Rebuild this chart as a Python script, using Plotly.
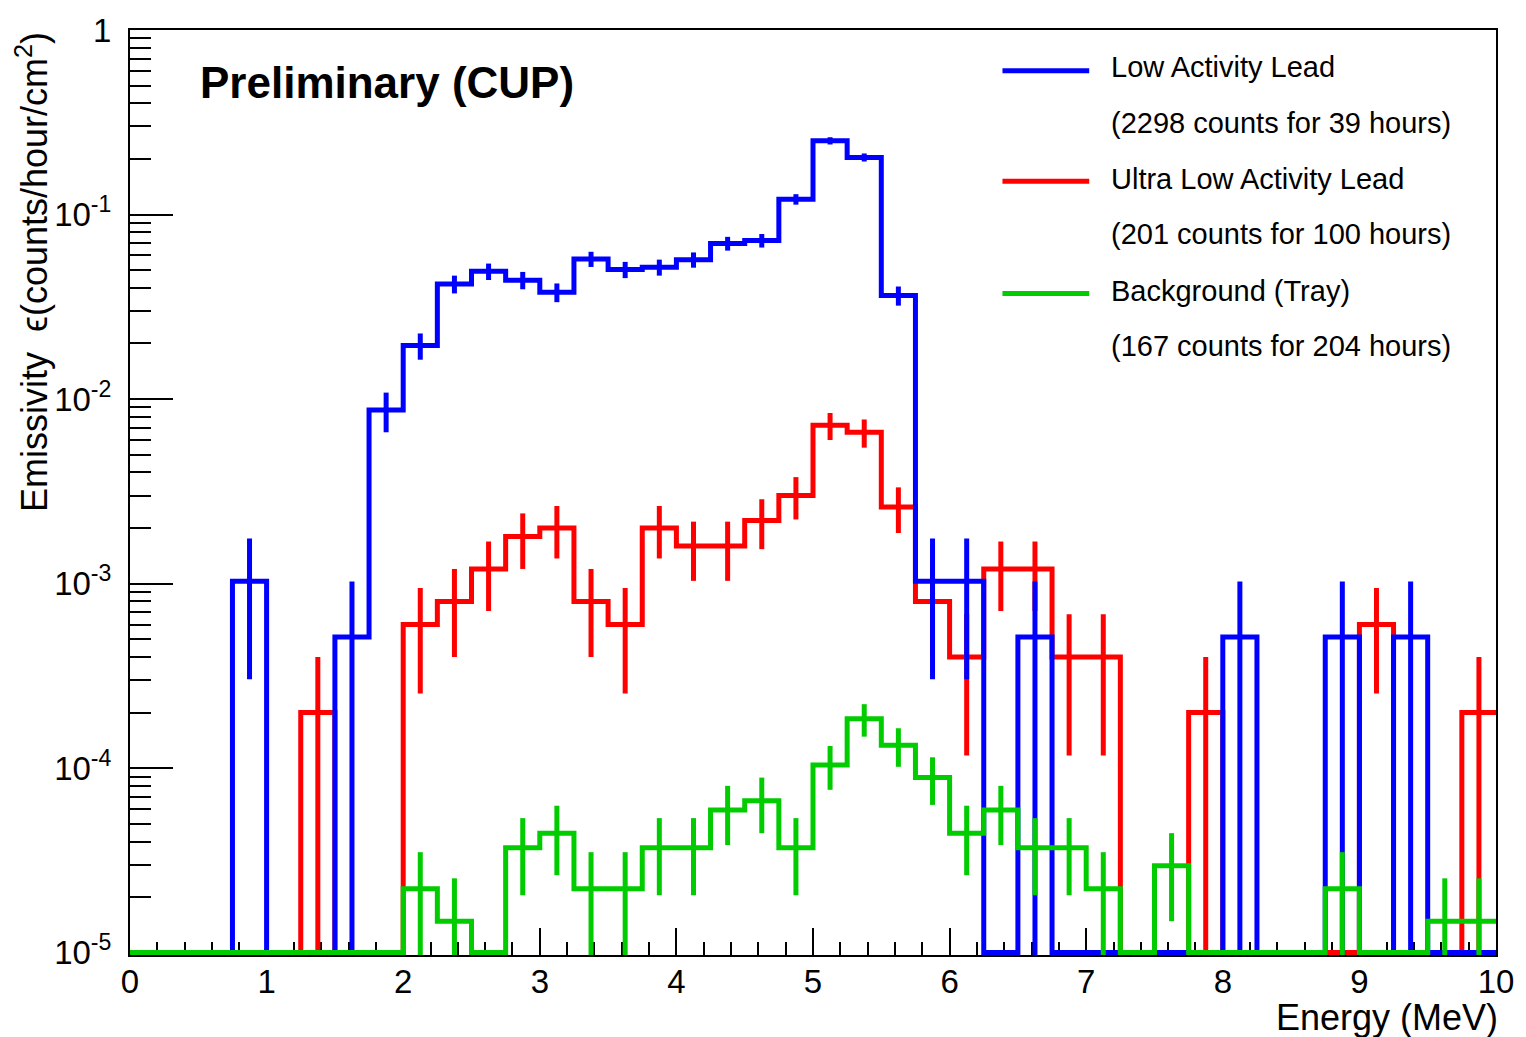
import numpy as np
import plotly.graph_objects as go

# Energy binning (MeV)
E_MIN = 0.0
E_MAX = 10.0
BIN_WIDTH = 0.25

# Alpha emissivity per 0.25 MeV bin, counts/hour/cm^2 (40 bins, 0-10 MeV)
low_activity = [0, 0, 0, 1.03e-3, 0, 0, 5.13e-4, 8.72e-3,
                1.95e-2, 4.20e-2, 4.92e-2, 4.41e-2, 3.79e-2, 5.74e-2, 5.03e-2, 5.18e-2,
                5.69e-2, 6.97e-2, 7.23e-2, 0.121, 0.251, 0.204, 3.64e-2, 1.03e-3,
                1.03e-3, 0, 5.13e-4, 0, 0, 0, 0, 0,
                5.13e-4, 0, 0, 5.13e-4, 0, 5.13e-4, 0, 0]

ultra_low_activity = [0, 0, 0, 0, 0, 2.0e-4, 0, 0,
                      6.0e-4, 8.0e-4, 1.2e-3, 1.8e-3, 2.0e-3, 8.0e-4, 6.0e-4, 2.0e-3,
                      1.6e-3, 1.6e-3, 2.2e-3, 3.0e-3, 7.2e-3, 6.6e-3, 2.6e-3, 8.0e-4,
                      4.0e-4, 1.2e-3, 1.2e-3, 4.0e-4, 4.0e-4, 0, 0, 2.0e-4,
                      0, 0, 0, 0, 6.0e-4, 0, 0, 2.0e-4]

background_tray = [0, 0, 0, 0, 0, 0, 0, 0,
                   2.22e-5, 1.48e-5, 0, 3.70e-5, 4.44e-5, 2.22e-5, 2.22e-5, 3.70e-5,
                   3.70e-5, 5.92e-5, 6.66e-5, 3.70e-5, 1.04e-4, 1.85e-4, 1.33e-4, 8.88e-5,
                   4.44e-5, 5.92e-5, 3.70e-5, 3.70e-5, 2.22e-5, 0, 2.96e-5, 0,
                   0, 0, 0, 2.22e-5, 0, 0, 1.48e-5, 1.48e-5]

# Emissivity carried by a single count in each measurement (sets Poisson errors)
per_count_low = 5.13e-4
per_count_ultra = 2.0e-4
per_count_tray = 7.4e-6

legend_names = ["Low Activity Lead", "Ultra Low Activity Lead", "Background (Tray)"]
legend_notes = ["(2298 counts for 39 hours)", "(201 counts for 100 hours)",
                "(167 counts for 204 hours)"]

COLOR_LOW = "#0000ff"
COLOR_ULTRA = "#ff0000"
COLOR_TRAY = "#00cc00"

Y_FLOOR = 1e-5
edges = E_MIN + BIN_WIDTH * np.arange(len(low_activity) + 1)
centers = edges[:-1] + BIN_WIDTH / 2


def step_xy(vals):
    # empty bins are drawn along the bottom of the frame
    v = [val if val > 0 else Y_FLOOR for val in vals]
    return list(edges), v + [v[-1]]


def error_xy(vals, unit):
    xs, ys = [], []
    for c, val in zip(centers, vals):
        if val <= 0:
            continue
        err = (val * unit) ** 0.5
        lo = val - err
        lo = max(lo, Y_FLOOR * 0.97)
        xs += [c, c, None]
        ys += [lo, val + err, None]
    return xs, ys


fig = go.Figure()
LW = 5
for vals, unit, color in [(ultra_low_activity, per_count_ultra, COLOR_ULTRA),
                          (low_activity, per_count_low, COLOR_LOW),
                          (background_tray, per_count_tray, COLOR_TRAY)]:
    sx, sy = step_xy(vals)
    fig.add_trace(go.Scatter(x=sx, y=sy, mode="lines", line=dict(color=color, width=LW, shape="hv"),
                             showlegend=False, hoverinfo="skip"))
    ex, ey = error_xy(vals, unit)
    fig.add_trace(go.Scatter(x=ex, y=ey, mode="lines", line=dict(color=color, width=LW),
                             showlegend=False, hoverinfo="skip"))

major_y = [1e-5, 1e-4, 1e-3, 1e-2, 1e-1, 1]
major_y_text = ["10<sup>-5</sup>", "10<sup>-4</sup>", "10<sup>-3</sup>", "10<sup>-2</sup>",
                "10<sup>-1</sup>", "1"]
minor_y = [k * 10.0 ** d for d in range(-5, 0) for k in range(2, 10)]

FONT = "Liberation Sans"
TICK_SIZE = 33
TITLE_SIZE = 36
LEG_SIZE = 29

# a sliver below 1e-5 keeps the floor segments from being cut by the frame
Y_RANGE = [-5.013, 0]

fig.update_layout(
    width=1526, height=1037,
    margin=dict(l=130, r=26, t=23, b=82),
    paper_bgcolor="white", plot_bgcolor="white",
    showlegend=False,
    font=dict(family=FONT, color="black"),
    xaxis=dict(range=[E_MIN, E_MAX], showline=True, linecolor="black", linewidth=2, mirror=True,
               ticks="inside", ticklen=27, tickwidth=1.5, tickcolor="black",
               tickmode="linear", tick0=0, dtick=1,
               minor=dict(ticks="inside", ticklen=13, tickwidth=1.5, tickcolor="black",
                          tickmode="linear", tick0=0, dtick=0.2),
               showgrid=False, zeroline=False, layer="below traces",
               tickfont=dict(family=FONT, size=TICK_SIZE, color="black"),
               ticklabelstandoff=-4),
    yaxis=dict(type="log", range=Y_RANGE, showline=True, linecolor="black", linewidth=2, mirror=True,
               tickmode="array", tickvals=major_y, ticktext=major_y_text,
               ticks="inside", ticklen=43, tickwidth=1.5, tickcolor="black",
               minor=dict(tickmode="array", tickvals=minor_y, ticks="inside", ticklen=21,
                          tickwidth=1.5, tickcolor="black"),
               showgrid=False, zeroline=False, layer="below traces",
               tickfont=dict(family=FONT, size=TICK_SIZE, color="black"),
               ticklabelstandoff=10),
)

annotations = [
    dict(text="Energy (MeV)", x=1, xref="paper", xanchor="right", xshift=4, y=0, yref="paper",
         yanchor="middle", yshift=-62, showarrow=False,
         font=dict(family=FONT, size=TITLE_SIZE, color="black")),
    dict(text="Emissivity\u00a0\u00a0\u03f5(counts/hour/cm<sup>2</sup>)", textangle=-90,
         x=0, xref="paper", xanchor="center", xshift=-98, y=1, yref="paper", yanchor="top",
         yshift=0, showarrow=False, font=dict(family=FONT, size=TITLE_SIZE, color="black")),
    dict(text="<b>Preliminary (CUP)</b>", x=0.0496, xref="paper", xanchor="left",
         y=0.9376, yshift=5, yref="paper", yanchor="middle", showarrow=False,
         font=dict(family=FONT, size=44, color="black")),
]

# legend block: coloured line sample, name, and exposure note underneath
leg_line_y = [0.9559, 0.8366, 0.7151]
leg_name_y = [0.9559, 0.8344, 0.7140]
leg_note_y = [0.8946, 0.7753, 0.6538]
shapes = []
for color, ly, name, ny, note, my in zip([COLOR_LOW, COLOR_ULTRA, COLOR_TRAY], leg_line_y,
                                         legend_names, leg_name_y, legend_notes, leg_note_y):
    shapes.append(dict(type="line", xref="paper", yref="paper", x0=0.6387, x1=0.7022,
                       y0=ly, y1=ly, ysizemode="scaled", line=dict(color=color, width=5)))
    annotations.append(dict(text=name, x=0.7168, xref="paper", xanchor="left", y=ny, yshift=4,
                            yref="paper", yanchor="middle", showarrow=False,
                            font=dict(family=FONT, size=LEG_SIZE, color="black")))
    annotations.append(dict(text=note, x=0.7168, xref="paper", xanchor="left", y=my, yshift=4,
                            yref="paper", yanchor="middle", showarrow=False,
                            font=dict(family=FONT, size=LEG_SIZE, color="black")))

fig.update_layout(annotations=annotations, shapes=shapes)
fig.write_html("out.html")
